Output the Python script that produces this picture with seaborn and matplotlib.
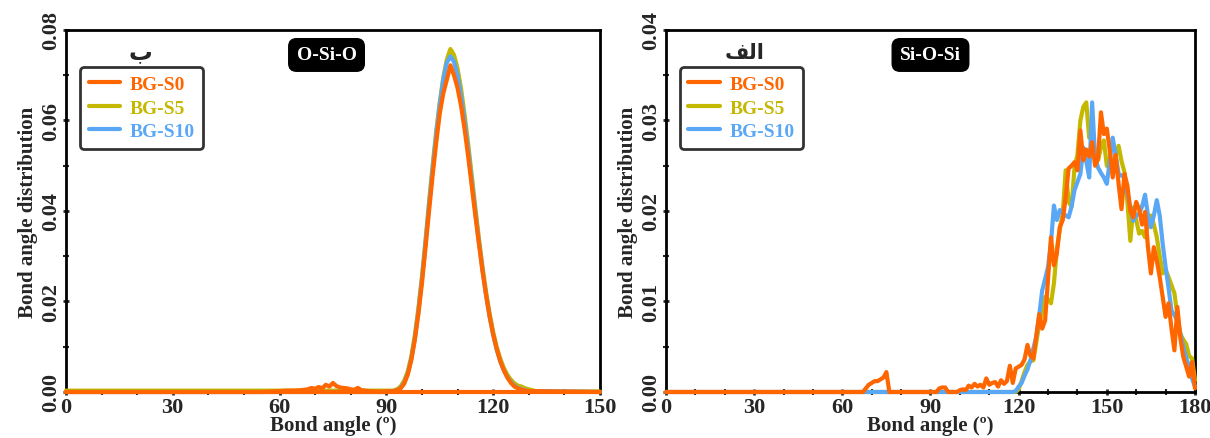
import numpy as np
import pandas as pd
import matplotlib
matplotlib.use("Agg")
import matplotlib.pyplot as plt
import seaborn as sns

SERIES = ["BG-S0", "BG-S5", "BG-S10"]
COLORS = {"BG-S0": "#FF6600", "BG-S5": "#C4B800", "BG-S10": "#5AA8F5"}

# O-Si-O bond angle distribution (panel ب)
osio_s0_x = [0, 55, 60, 62, 64, 66, 68, 69, 70, 71, 72, 73, 74, 75, 76, 77, 78, 79, 80, 81, 82, 83, 85, 88,
             92, 93, 94, 95, 96, 97, 98, 99, 100, 101, 102, 103, 104, 105, 106, 107, 108, 109, 110, 111,
             112, 113, 114, 115, 116, 117, 118, 119, 120, 121, 122, 123, 124, 125, 126, 127, 128, 130, 150]
osio_s0_y = [0.0, 0.0, 0.0002, 0.0003, 0.0003, 0.0004, 0.0006, 0.0009, 0.0007, 0.0011, 0.0008, 0.0016,
             0.0012, 0.0020, 0.0013, 0.0010, 0.0009, 0.0008, 0.0006, 0.0005, 0.0009, 0.0004, 0.0002, 0.0001,
             0.0002, 0.0004, 0.0008, 0.0018, 0.0038, 0.0070, 0.0115, 0.0172, 0.0240, 0.0318, 0.0400, 0.0478,
             0.0550, 0.0615, 0.0660, 0.0690, 0.0722, 0.0700, 0.0672, 0.0632, 0.0580, 0.0520, 0.0455, 0.0390,
             0.0328, 0.0268, 0.0215, 0.0168, 0.0128, 0.0095, 0.0068, 0.0048, 0.0032, 0.0020, 0.0012, 0.0008,
             0.0005, 0.0002, 0.0]
osio_s5_x = [0, 90] + list(range(92, 133)) + [135, 150]
osio_s5_y = [0.0003, 0.0003, 0.0003, 0.0006, 0.0012, 0.0025, 0.0045, 0.0078, 0.0125, 0.0185, 0.0255, 0.0335,
             0.0420, 0.0500, 0.0575, 0.0640, 0.0695, 0.0735, 0.0758, 0.0745, 0.0715, 0.0670, 0.0612, 0.0548,
             0.0478, 0.0408, 0.0340, 0.0278, 0.0222, 0.0174, 0.0133, 0.0100, 0.0074, 0.0053, 0.0038, 0.0027,
             0.0019, 0.0014, 0.0012, 0.0008, 0.0006, 0.0004, 0.0002, 0.0001, 0.0001]
osio_s10_x = [0, 90] + list(range(92, 129)) + [130, 150]
osio_s10_y = [0.0, 0.0, 0.0002, 0.0004, 0.0009, 0.0020, 0.0040, 0.0072, 0.0118, 0.0178, 0.0248, 0.0328,
              0.0412, 0.0492, 0.0568, 0.0635, 0.0690, 0.0728, 0.0742, 0.0730, 0.0700, 0.0655, 0.0598, 0.0535,
              0.0466, 0.0398, 0.0332, 0.0270, 0.0215, 0.0167, 0.0127, 0.0094, 0.0068, 0.0048, 0.0033, 0.0022,
              0.0014, 0.0009, 0.0006, 0.0002, 0.0]

# Si-O-Si bond angle distribution (panel الف)
sios_s0_x = [0, 67, 68, 69, 70, 71, 72, 73, 74, 75, 76, 92, 93, 94, 95, 96, 99] + list(range(100, 181))
sios_s0_y = [0.0, 0.0, 0.0004, 0.0008, 0.0010, 0.0012, 0.0012, 0.0014, 0.0016, 0.0022, 0.0, 0.0, 0.0004,
             0.0005, 0.0005, 0.0, 0.0,
             0.0002, 0.0003, 0.0002, 0.0007, 0.0005, 0.0009, 0.0006, 0.0008, 0.0005, 0.0015,
             0.0008, 0.0010, 0.0011, 0.0006, 0.0013, 0.0009, 0.0012, 0.0029, 0.0010, 0.0026,
             0.0028, 0.0030, 0.0036, 0.0052, 0.0040, 0.0037, 0.0062, 0.0086, 0.0070, 0.0079,
             0.0125, 0.0171, 0.0140, 0.0153, 0.0182, 0.0190, 0.0215, 0.0247, 0.0250, 0.0254,
             0.0245, 0.0289, 0.0256, 0.0268, 0.0260, 0.0276, 0.0250, 0.0258, 0.0309, 0.0285,
             0.0291, 0.0267, 0.0237, 0.0262, 0.0230, 0.0202, 0.0241, 0.0228, 0.0200, 0.0193,
             0.0210, 0.0202, 0.0185, 0.0199, 0.0160, 0.0131, 0.0160, 0.0145, 0.0127, 0.0105,
             0.0083, 0.0098, 0.0070, 0.0046, 0.0094, 0.0060, 0.0039, 0.0028, 0.0017, 0.0033,
             0.0004]
sios_s5_x = [0] + list(range(118, 181))
sios_s5_y = [0.0, 0.0, 0.0, 0.0003, 0.0012, 0.0022, 0.0030, 0.0034, 0.0035, 0.0055, 0.0075, 0.0088, 0.0105,
             0.0102, 0.0098, 0.0120, 0.0158, 0.0180, 0.0197, 0.0245, 0.0210, 0.0205, 0.0248, 0.0262,
             0.0300, 0.0315, 0.0320, 0.0281, 0.0287, 0.0262, 0.0256, 0.0270, 0.0278, 0.0250, 0.0248,
             0.0252, 0.0262, 0.0272, 0.0255, 0.0243, 0.0210, 0.0167, 0.0204, 0.0190, 0.0175, 0.0178,
             0.0171, 0.0185, 0.0195, 0.0185, 0.0171, 0.0150, 0.0131, 0.0135, 0.0127, 0.0118, 0.0109,
             0.0085, 0.0064, 0.0058, 0.0053, 0.0040, 0.0037, 0.0013]
sios_s10_x = [0] + list(range(118, 181))
sios_s10_y = [0.0, 0.0, 0.0001, 0.0006, 0.0010, 0.0018, 0.0025, 0.0035, 0.0048, 0.0061, 0.0085, 0.0112, 0.0125,
              0.0138, 0.0165, 0.0206, 0.0190, 0.0201, 0.0198, 0.0195, 0.0193, 0.0205, 0.0223, 0.0232,
              0.0241, 0.0270, 0.0255, 0.0237, 0.0320, 0.0260, 0.0248, 0.0242, 0.0237, 0.0230, 0.0255,
              0.0281, 0.0262, 0.0241, 0.0239, 0.0237, 0.0220, 0.0204, 0.0189, 0.0195, 0.0197, 0.0205,
              0.0218, 0.0195, 0.0182, 0.0195, 0.0212, 0.0195, 0.0164, 0.0138, 0.0115, 0.0090, 0.0085,
              0.0079, 0.0065, 0.0050, 0.0038, 0.0028, 0.0015, 0.0006]


def make_frame(pairs):
    frames = []
    for name, (x, y) in zip(SERIES, pairs):
        frames.append(pd.DataFrame({"angle": x, "value": y, "sample": name}))
    return pd.concat(frames, ignore_index=True)


sns.set_style("ticks")
plt.rcParams["font.family"] = ["Liberation Serif", "DejaVu Sans"]
plt.rcParams["font.weight"] = "bold"

fig = plt.figure(figsize=(12.1, 4.39), dpi=100)
ax_l = fig.add_axes([0.0545, 0.1048, 0.4413, 0.8246])
ax_r = fig.add_axes([0.5504, 0.1048, 0.4372, 0.8246])

panels = [
    (ax_l, make_frame([(osio_s0_x, osio_s0_y), (osio_s5_x, osio_s5_y), (osio_s10_x, osio_s10_y)]),
     150, 0.08, 0.02, "O-Si-O", 0.488, "ب", 0.139, 17),
    (ax_r, make_frame([(sios_s0_x, sios_s0_y), (sios_s5_x, sios_s5_y), (sios_s10_x, sios_s10_y)]),
     180, 0.04, 0.01, "Si-O-Si", 0.50, "\uFED2\uFEDF\uFE8D", 0.149, 15),
]

for ax, df, xmax, ymax, ystep, title, tx, letter, lx, lsize in panels:
    # draw S5, S10 first, S0 on top
    for name, z in [("BG-S5", 3), ("BG-S10", 4), ("BG-S0", 5)]:
        sns.lineplot(data=df[df["sample"] == name], x="angle", y="value", color=COLORS[name],
                     lw=3, ax=ax, label=name, estimator=None, sort=False, zorder=z, clip_on=False)
    if title == "O-Si-O":
        ax.axhline(0, color=COLORS["BG-S0"], lw=3, zorder=5, clip_on=False)

    ax.set_xlim(0, xmax)
    ax.set_ylim(0, ymax)
    ax.set_xticks(np.arange(0, xmax + 1, 30))
    ax.set_xticks(np.arange(0, xmax + 1, 10), minor=True)
    ax.set_yticks(np.arange(0, ymax + ystep / 2, ystep))
    ax.set_yticks(np.arange(0, ymax + ystep / 4, ystep / 2), minor=True)
    ax.set_yticklabels([f"{v:.2f}" for v in np.arange(0, ymax + ystep / 2, ystep)],
                       rotation=90, va="center")
    ax.tick_params(axis="both", which="major", direction="inout", length=5, width=2,
                   labelsize=16, pad=1)
    ax.tick_params(axis="both", which="minor", direction="inout", length=4, width=1.5)
    for lab in ax.get_xticklabels() + ax.get_yticklabels():
        lab.set_fontweight("bold")
    for sp in ax.spines.values():
        sp.set_linewidth(2)
        sp.set_color("black")

    ax.set_xlabel("Bond angle (º)", fontsize=15, fontweight="bold", labelpad=-1)
    ax.set_ylabel("Bond angle distribution", fontsize=15, fontweight="bold", labelpad=2)

    ax.text(tx, 0.931, title, transform=ax.transAxes,
            ha="center", va="center", color="white", fontsize=14, fontweight="bold",
            bbox=dict(boxstyle="round,pad=0.4", fc="black", ec="black"))
    ax.text(lx, 0.94, letter, transform=ax.transAxes, ha="center", va="center",
            fontsize=lsize, fontweight="bold", family=["DejaVu Sans"], zorder=12)

    handles, labels = ax.get_legend_handles_labels()
    order = [labels.index(s) for s in SERIES]
    leg = ax.legend([handles[i] for i in order], [labels[i] for i in order],
                    loc="upper left", bbox_to_anchor=(0.026, 0.898), borderaxespad=0,
                    frameon=True, fancybox=True, edgecolor="black", labelcolor="linecolor",
                    prop={"family": "Liberation Serif", "weight": "bold", "size": 14},
                    handlelength=1.6, handletextpad=0.5, labelspacing=0.3, borderpad=0.45)
    leg.get_frame().set_linewidth(2)
    leg.set_zorder(10)

fig.savefig("out.png", dpi=100)
